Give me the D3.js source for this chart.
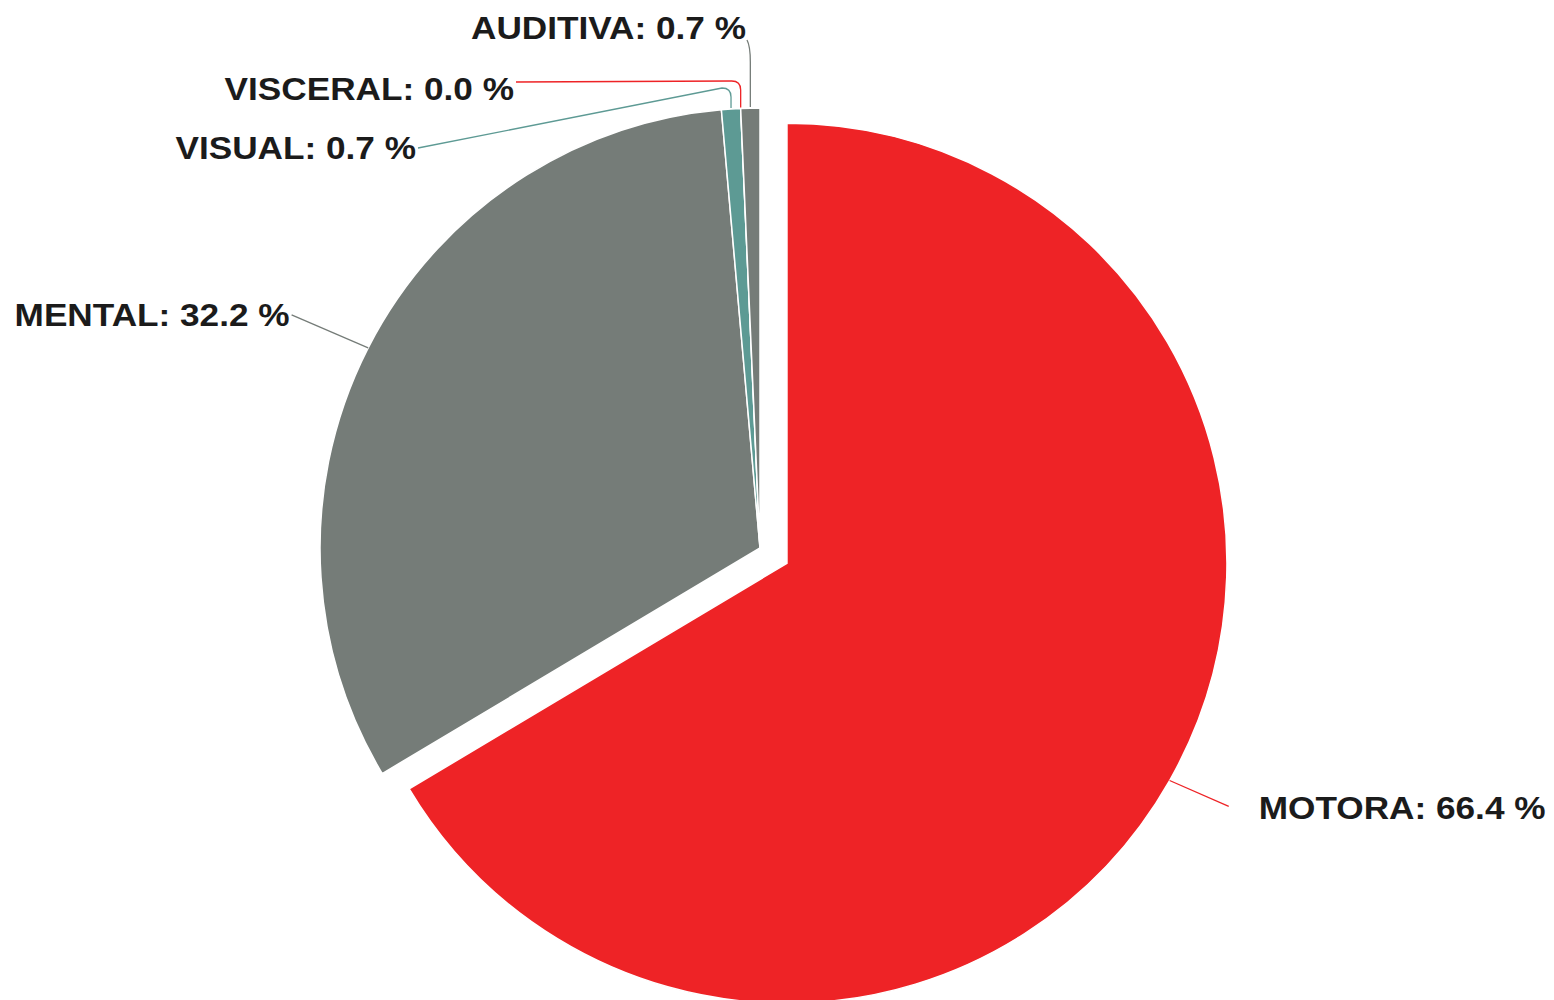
<!DOCTYPE html>
<html>
<head>
<meta charset="utf-8">
<script src="https://cdn.jsdelivr.net/npm/d3@7"></script>
<style>
  html, body { margin: 0; padding: 0; background: #fff; }
  svg { display: block; }
  .lbl { font-family: "Liberation Sans", Arial, sans-serif; font-weight: bold; font-size: 32px; fill: #1b1b1b; }
</style>
</head>
<body>
<div id="chart"></div>
<script>
// counts per type of disability (shares shown as %)
const categories = ['MOTORA', 'MENTAL', 'VISUAL', 'VISCERAL', 'AUDITIVA'];
const counts = [95, 46, 1, 0, 1];
const colors = ['#ee2326', '#757c78', '#5d9a94', '#ee2326', '#757c78'];
const exploded = ['MOTORA'];

const w = 1554;
const h = 1000;
const cx = 760;
const cy = 548;
const r = 440;
const explodeBy = 31;
const stretch = 1.1; // labels look a bit wider than the font

const total = d3.sum(counts);
const fmt = d3.format('.1f');

// manual label placement for the thin slices at the top (offsets from centre)
const smallLabels = {
    AUDITIVA: { elbowY: -486, endX: -13, endY: -508, tx: -14, ty: -520, straight: true },
    VISCERAL: { elbowY: -467, endX: -244, endY: -466, tx: -246, ty: -459 },
    VISUAL:   { elbowY: -460, endX: -342, endY: -400, tx: -344, ty: -400 }
};

const svg = d3.select('#chart').append('svg').attr('width', w).attr('height', h);
const g = svg.append('g').attr('transform', `translate(${cx},${cy})`);

const pie = d3.pie().sort(null).value(d => d);
const arcs = pie(counts);
const arc = d3.arc().innerRadius(0).outerRadius(r);

const offset = (d, i) => {
    if (!exploded.includes(categories[i])) return [0, 0];
    const a = (d.startAngle + d.endAngle) / 2;
    return [Math.sin(a) * explodeBy, -Math.cos(a) * explodeBy];
};

const slices = g.selectAll('g.slice')
    .data(arcs)
    .enter()
    .append('g')
    .attr('class', 'slice')
    .attr('transform', (d, i) => `translate(${offset(d, i)})`);

slices.append('path')
    .attr('d', arc)
    .attr('fill', (d, i) => colors[i])
    .attr('stroke', '#fff')
    .attr('stroke-width', 1.5);

// leader lines + labels
arcs.forEach((d, i) => {
    const name = categories[i];
    const a = (d.startAngle + d.endAngle) / 2;
    const [ox, oy] = offset(d, i);
    const px = Math.sin(a) * r + ox;
    const py = -Math.cos(a) * r + oy;
    const text = `${name}: ${fmt(counts[i] / total * 100)} %`;
    const p = d3.path();
    let tx, ty, anchor;

    if (smallLabels[name]) {
        const s = smallLabels[name];
        p.moveTo(px, py - 1);
        if (s.straight) {
            p.lineTo(px, s.elbowY);
            p.quadraticCurveTo(px, s.endY + 6, s.endX, s.endY);
        } else {
            p.lineTo(px, s.elbowY + 9);
            p.quadraticCurveTo(px, s.elbowY, px - 9, s.elbowY);
            p.lineTo(s.endX, s.endY);
        }
        tx = s.tx; ty = s.ty; anchor = 'end';
    } else if (Math.sin(a) > 0) {
        const ex = Math.sin(a) * (r + 68) + ox;
        const ey = -Math.cos(a) * (r + 28) + oy;
        p.moveTo(px, py);
        p.lineTo(ex, ey + 12);
        tx = ex + 30; ty = ey + 13; anchor = 'start';
    } else {
        const ex = Math.sin(a) * (r + 86) + ox;
        const ey = -Math.cos(a) * r + oy - 33;
        p.moveTo(px, py);
        p.lineTo(ex, ey);
        tx = ex - 2; ty = ey; anchor = 'end';
    }

    g.append('path')
        .attr('d', p.toString())
        .attr('fill', 'none')
        .attr('stroke', colors[i])
        .attr('stroke-width', 1.3);

    g.append('text')
        .attr('class', 'lbl')
        .attr('transform', `translate(${tx},${ty}) scale(${stretch},1)`)
        .attr('dy', '0.35em')
        .attr('text-anchor', anchor)
        .text(text);
});
</script>
</body>
</html>
